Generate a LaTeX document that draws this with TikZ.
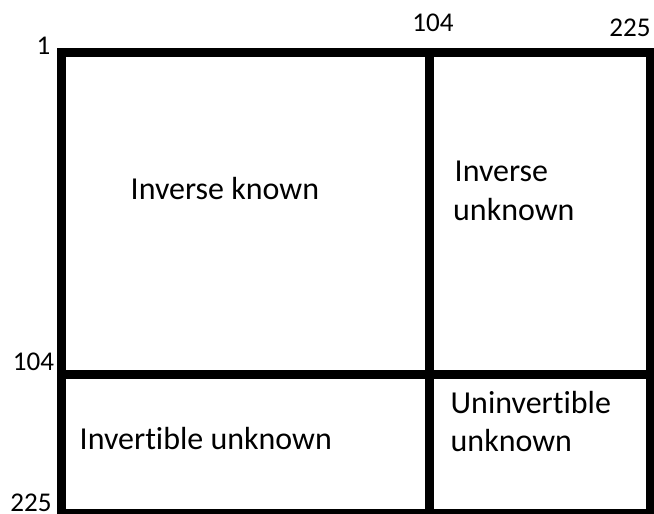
\documentclass[tikz,border=0pt]{standalone}
\usepackage{fontspec}
\setmainfont{Carlito}[Ligatures=NoCommon]

\begin{document}
\begin{tikzpicture}[grid/.style={line width=0.09cm},
  lbl/.style={anchor=base west, inner sep=0pt, font=\fontsize{9.1pt}{11pt}\selectfont},
  num/.style={anchor=base, inner sep=0pt, font=\fontsize{7.7pt}{9pt}\selectfont}]
\useasboundingbox (0,0) rectangle (6.54,5.14);
% outer frame and the two cuts at 104
\draw[grid] (0.615,0.005) rectangle (6.51,4.61);
\draw[grid] (4.295,4.61) -- (4.295,0.005);
\draw[grid] (0.615,1.39) -- (6.51,1.39);
% block names
\node[lbl] (known) at (1.30,3.14) {Inverse known};
\node[lbl] (unkA) at (4.54,3.323) {Inverse};
\node[lbl] (unkB) at (4.525,2.933) {unknown};
\node[lbl] (invert) at (0.79,0.64) {Invertible unknown};
\node[lbl] (uninvA) at (4.50,1.007) {Uninvertible};
\node[lbl] (uninvB) at (4.50,0.623) {unknown};
% indices
\node[num] (rowA) at (0.435,4.59) {1};
\node[num] (colB) at (4.33,4.82) {104};
\node[num] (colC) at (6.30,4.77) {225};
\node[num] (rowB) at (0.335,1.43) {104};
\node[num] (rowC) at (0.31,0.023) {225};
\end{tikzpicture}
\end{document}
